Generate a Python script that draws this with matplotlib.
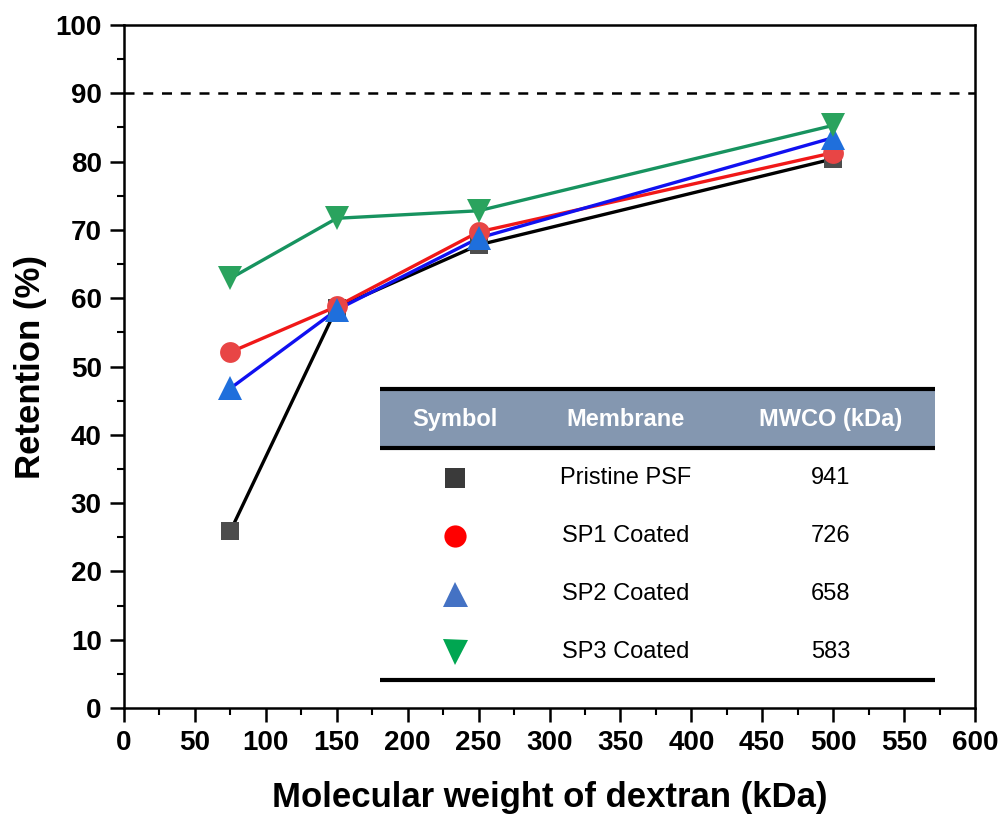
import numpy as np
import matplotlib.pyplot as plt
from matplotlib.patches import Rectangle
from matplotlib.ticker import MultipleLocator

plt.rcParams['font.family'] = ['Liberation Sans', 'DejaVu Sans']

# данные
mw = [75, 150, 250, 500]
psf = [25.9, 58.6, 67.8, 80.4]
sp1 = [52.1, 58.8, 69.7, 81.3]
sp2 = [46.8, 58.3, 68.8, 83.5]
sp3 = [62.9, 71.7, 72.8, 85.3]

names = ['Pristine PSF', 'SP1 Coated', 'SP2 Coated', 'SP3 Coated']
mwco = ['941', '726', '658', '583']
headers = ['Symbol', 'Membrane', 'MWCO (kDa)']

series = [psf, sp1, sp2, sp3]
markers = ['s', 'o', '^', 'v']
line_colors = ['black', '#f01818', '#1010f0', '#17935f']
marker_colors = ['#4d4d4d', '#e84545', '#1f6fdc', '#2aa35e']
table_colors = ['#3a3a3a', '#ff0000', '#4472c4', '#00a651']
msizes = [13, 15, 17, 17]

fig = plt.figure(figsize=(10, 8.19), dpi=100)
ax = fig.add_axes([0.124, 0.1355, 0.851, 0.834])

for y, lc in zip(series, line_colors):
    ax.plot(mw, y, '-', color=lc, linewidth=2.4, zorder=2)
for y, m, mc, ms in zip(series, markers, marker_colors, msizes):
    ax.plot(mw, y, linestyle='none', marker=m, color=mc, markersize=ms,
            markeredgewidth=0, zorder=3)

ax.axhline(90, color='black', linestyle=(0, (4, 3.5)), linewidth=1.8, zorder=1)

ax.set_xlim(0, 600)
ax.set_ylim(0, 100)
ax.xaxis.set_major_locator(MultipleLocator(50))
ax.xaxis.set_minor_locator(MultipleLocator(25))
ax.yaxis.set_major_locator(MultipleLocator(10))
ax.yaxis.set_minor_locator(MultipleLocator(5))
ax.tick_params(which='major', direction='out', length=10, width=1.8, labelsize=20, pad=6)
ax.tick_params(which='minor', direction='out', length=5, width=1.5)
for lab in ax.get_xticklabels() + ax.get_yticklabels():
    lab.set_fontweight('bold')
for sp in ax.spines.values():
    sp.set_linewidth(1.8)

ax.set_xlabel('Molecular weight of dextran (kDa)', fontsize=25, fontweight='bold', labelpad=18)
ax.set_ylabel('Retention (%)', fontsize=25, fontweight='bold', labelpad=6)

# таблица-легенда
x0, x1 = 0.301, 0.953
tr = ax.transAxes
ax.add_patch(Rectangle((x0, 0.381), x1 - x0, 0.086, transform=tr,
                       facecolor='#8497b0', edgecolor='none', zorder=4))
for yl in [0.467, 0.381, 0.041]:
    ax.plot([x0, x1], [yl, yl], transform=tr, color='black', linewidth=3, zorder=5,
            solid_capstyle='butt')

col_x = [0.389, 0.589, 0.830]
for cx, h in zip(col_x, headers):
    ax.text(cx, 0.423, h, transform=tr, ha='center', va='center', color='white',
            fontsize=17, fontweight='bold', zorder=6)

row_y = [0.337, 0.252, 0.167, 0.082]
for ry, m, tc, ms, n, v in zip(row_y, markers, table_colors, msizes, names, mwco):
    ax.plot([col_x[0]], [ry], transform=tr, marker=m, color=tc, markersize=ms + 1,
            markeredgewidth=0, linestyle='none', zorder=6)
    ax.text(col_x[1], ry, n, transform=tr, ha='center', va='center', fontsize=17, zorder=6)
    ax.text(col_x[2], ry, v, transform=tr, ha='center', va='center', fontsize=17, zorder=6)

plt.savefig('out.png', dpi=100)
